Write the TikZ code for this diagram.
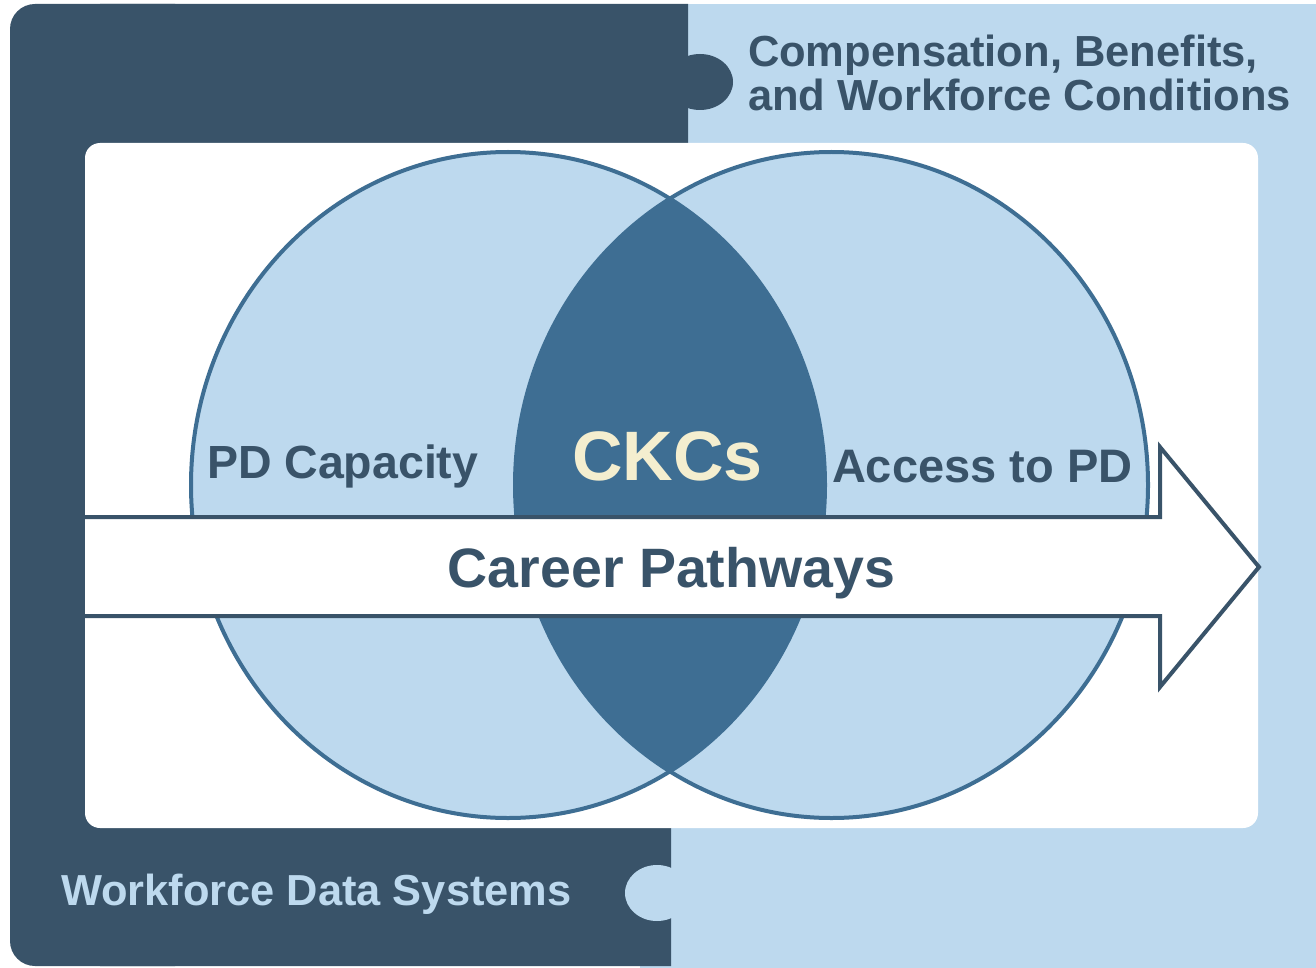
\documentclass[tikz,border=0pt]{standalone}
\usepackage{fontspec}
\setmainfont{Liberation Sans}
\definecolor{navy}{HTML}{395369}
\definecolor{lightblue}{HTML}{BDD9EE}
\definecolor{midblue}{HTML}{3E6E93}
\definecolor{cream}{HTML}{F4EECF}
\newcommand\fsz[1]{\fontsize{#1}{#1}\selectfont\bfseries}
\tikzset{
  lbl/.style={inner sep=0pt, outer sep=0pt, text=navy},
  ring/.style={draw=midblue, line width=4pt},
}
\begin{document}
\begin{tikzpicture}[x=1pt,y=-1pt]
\useasboundingbox (0,0) rectangle (1316,968);
\fill[white] (0,0) rectangle (1316,968);
% light blue puzzle piece
\fill[lightblue] (640,4) rectangle (1316,968);
% dark puzzle piece
\fill[navy, rounded corners=25] (10,4) rectangle (200,966);
\fill[navy] (100,4) -- (688,4) -- (688,500) -- (671,500) -- (671,966) -- (100,966) -- cycle;
\fill[navy] (700,82) ellipse[x radius=33, y radius=28];
\fill[lightblue] (657,893) ellipse[x radius=32, y radius=28];
% white panel
\fill[white, rounded corners=15] (85,143) rectangle (1258,828);
% circles
\fill[lightblue] (508,485) ellipse[x radius=317, y radius=333];
\fill[lightblue] (831.5,485) ellipse[x radius=316.5, y radius=333];
\begin{scope}
  \clip (508,485) ellipse[x radius=317, y radius=333];
  \fill[midblue] (831.5,485) ellipse[x radius=316.5, y radius=333];
\end{scope}
\draw[ring] (508,485) ellipse[x radius=317, y radius=333];
\draw[ring] (831.5,485) ellipse[x radius=316.5, y radius=333];
% arrow
\fill[white] (85,517) -- (1160,517) -- (1160,447) -- (1259,567) -- (1160,687) -- (1160,616) -- (85,616) -- cycle;
\draw[navy, line width=4pt, line join=miter] (85,517) -- (1160,517) -- (1160,447) -- (1259,567) -- (1160,687) -- (1160,616) -- (85,616);
% texts
\node[lbl, anchor=base west] (comp1) at (748,67) {\fsz{43.5}Compensation, Benefits,};
\node[lbl, anchor=base west] (comp2) at (748,111) {\fsz{43.5}and Workforce Conditions};
\node[lbl, anchor=base west] (pdcap) at (207,478) {\fsz{46.5}PD Capacity};
\node[lbl, anchor=base, text=cream] (ckcs) at (667.5,480) {\fsz{70}CKCs};
\node[lbl, anchor=base west] (access) at (832,482) {\fsz{47}Access to PD};
\node[lbl, anchor=base] (career) at (671.5,587) {\fsz{55.5}Career Pathways};
\node[lbl, anchor=base west, text=lightblue] (wds) at (61,905) {\fsz{43.4}Workforce Data Systems};
\end{tikzpicture}
\end{document}
